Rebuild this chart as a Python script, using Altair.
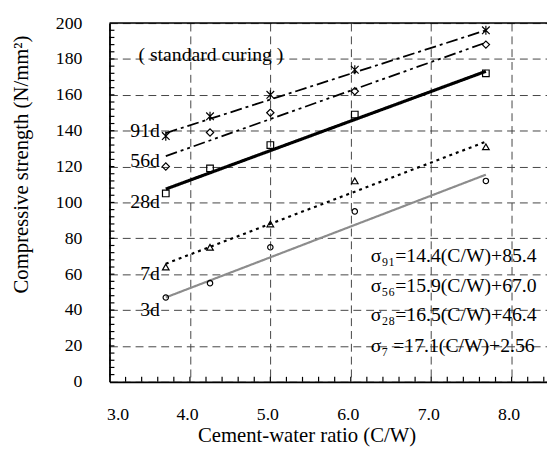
import altair as alt
import pandas as pd
import numpy as np

FONT = "'Liberation Serif', 'Times New Roman', 'DejaVu Serif', serif"

# data
ages = ["91d", "56d", "28d", "7d", "3d"]
cw = [3.7, 4.25, 5.0, 6.05, 7.68]
s91 = [137, 148, 160, 174, 196]
s56 = [120, 139, 150, 162, 188]
s28 = [105, 119, 132, 149, 172]
s7 = [64, 75, 88, 112, 131]
s3 = [47, 55, 75, 95, 112]
series_vals = [s91, s56, s28, s7, s3]
slopes = [14.4, 15.9, 16.5, 17.1, 17.2]
intercepts = [85.4, 67.0, 46.4, 2.56, -16.6]
label_y = [140, 123, 100, 60, 40]
equations = ["σ₉₁=14.4(C/W)+85.4", "σ₅₆=15.9(C/W)+67.0",
             "σ₂₈=16.5(C/W)+46.4", "σ₇ =17.1(C/W)+2.56"]
eq_y = [70, 53.5, 37, 20]
x_ticks = [3.0, 4.0, 5.0, 6.0, 7.0, 8.0]
y_ticks = list(range(0, 201, 20))
x_minor = [round(v, 1) for v in np.arange(3.2, 8.41, 0.2)]
y_minor = list(range(4, 200, 4))

# styles
shapes = ["M-1,-1L1,1M-1,1L1,-1M0,-1.2L0,1.2", "diamond", "square", "triangle-up", "circle"]
sizes = [60, 55, 45, 45, 30]
dashes = [[12, 4, 3, 4], [12, 4, 3, 4, 3, 4], [1, 0], [3, 4], [1, 0]]
widths = [1.8, 1.8, 3.2, 2.2, 2.2]
colors = ["black", "black", "black", "black", "#8c8c8c"]

xs = alt.Scale(domain=[3.0, 8.44], nice=False, zero=False)
ys = alt.Scale(domain=[0, 200], nice=False)

xaxis = alt.Axis(values=x_ticks, format=".1f", grid=True, gridDash=[8, 5], gridColor="#444",
                 gridWidth=1, ticks=False, domainColor="black", domainWidth=1.8,
                 labelFont=FONT, titleFont=FONT,
                 labelFontSize=18, labelColor="black", labelPadding=24,
                 labelOffset=-3, labelBaseline="top", labelOverlap=False,
                 title="Cement-water ratio (C/W)", titleFontSize=21,
                 titleFontWeight="normal", titleColor="black", titleX=200, titleY=55,
                 titleBaseline="middle", titleAlign="center")
yaxis = alt.Axis(values=y_ticks, grid=True, gridDash=[8, 5], gridColor="#444", gridWidth=1,
                 ticks=False, domainColor="black", domainWidth=1.8, labelOverlap=False,
                 labelFont=FONT, titleFont=FONT,
                 labelFontSize=18, labelColor="black", labelPadding=28,
                 title="Compressive strength (N/mm²)", titleFontSize=21,
                 titleFontWeight="normal", titleColor="black", titleX=-89, titleY=143,
                 titleAngle=270, titleBaseline="middle", titleAlign="center")

layers = []

def X(f):
    return alt.X(f, scale=xs, axis=xaxis)

def Y(f):
    return alt.Y(f, scale=ys, axis=yaxis)

# base axes layer
base = alt.Chart(pd.DataFrame({"x": [3.0], "y": [0]})).mark_point(opacity=0).encode(
    x=X("x:Q"), y=Y("y:Q"))
layers.append(base)

# top border
layers.append(alt.Chart(pd.DataFrame({"a": [0]})).mark_rule(color="black", strokeWidth=1.5).encode(
    y=alt.datum(200, scale=ys, axis=yaxis), x=alt.datum(3.0, scale=xs, axis=xaxis), x2=alt.datum(8.44)))

# inward ticks
layers.append(alt.Chart(pd.DataFrame({"t": x_minor})).mark_rule(color="black", strokeWidth=1.2, y2Offset=-5).encode(
    x=X("t:Q"), y=alt.datum(0, scale=ys, axis=yaxis), y2=alt.datum(0)))
layers.append(alt.Chart(pd.DataFrame({"t": y_minor})).mark_rule(color="black", strokeWidth=1.2, x2Offset=5).encode(
    y=Y("t:Q"), x=alt.datum(3.0, scale=xs, axis=xaxis), x2=alt.datum(3.0)))

for i, age in enumerate(ages):
    xmin, xmax = min(cw), max(cw)
    line_df = pd.DataFrame({"x": [xmin, xmax],
                            "y": [slopes[i] * xmin + intercepts[i], slopes[i] * xmax + intercepts[i]]})
    layers.append(alt.Chart(line_df).mark_line(color=colors[i], strokeWidth=widths[i],
                                               strokeDash=dashes[i]).encode(
        x=X("x:Q"), y=Y("y:Q")))
    pts = pd.DataFrame({"x": cw, "y": series_vals[i]})
    layers.append(alt.Chart(pts).mark_point(shape=shapes[i], size=sizes[i], filled=False,
                                            color="black", strokeWidth=1.2, opacity=1).encode(
        x=X("x:Q"), y=Y("y:Q")))

lab_df = pd.DataFrame({"x": [cw[0]] * len(ages), "y": label_y, "t": ages})
layers.append(alt.Chart(lab_df).mark_text(font=FONT, fontSize=20, align="right", baseline="middle",
                                          dx=-6, color="black").encode(
    x=X("x:Q"), y=Y("y:Q"), text="t:N"))

eq_df = pd.DataFrame({"x": [6.25] * len(equations), "y": eq_y, "t": equations})
layers.append(alt.Chart(eq_df).mark_text(font=FONT, fontSize=20, align="left", baseline="middle",
                                         color="black").encode(
    x=X("x:Q"), y=Y("y:Q"), text="t:N"))

note_df = pd.DataFrame({"x": [3.36], "y": [182], "t": ["( standard curing )"]})
layers.append(alt.Chart(note_df).mark_text(font=FONT, fontSize=20, align="left", baseline="middle",
                                           color="black").encode(
    x=X("x:Q"), y=Y("y:Q"), text="t:N"))

chart = alt.layer(*layers).properties(
    width=444, height=364,
    autosize=alt.AutoSizeParams(type="none"),
    padding={"left": 103, "top": 12, "right": 0, "bottom": 72},
).configure_view(stroke=None).configure(background="white")

chart.save("out.html", embed_options={"renderer": "svg", "actions": False})
